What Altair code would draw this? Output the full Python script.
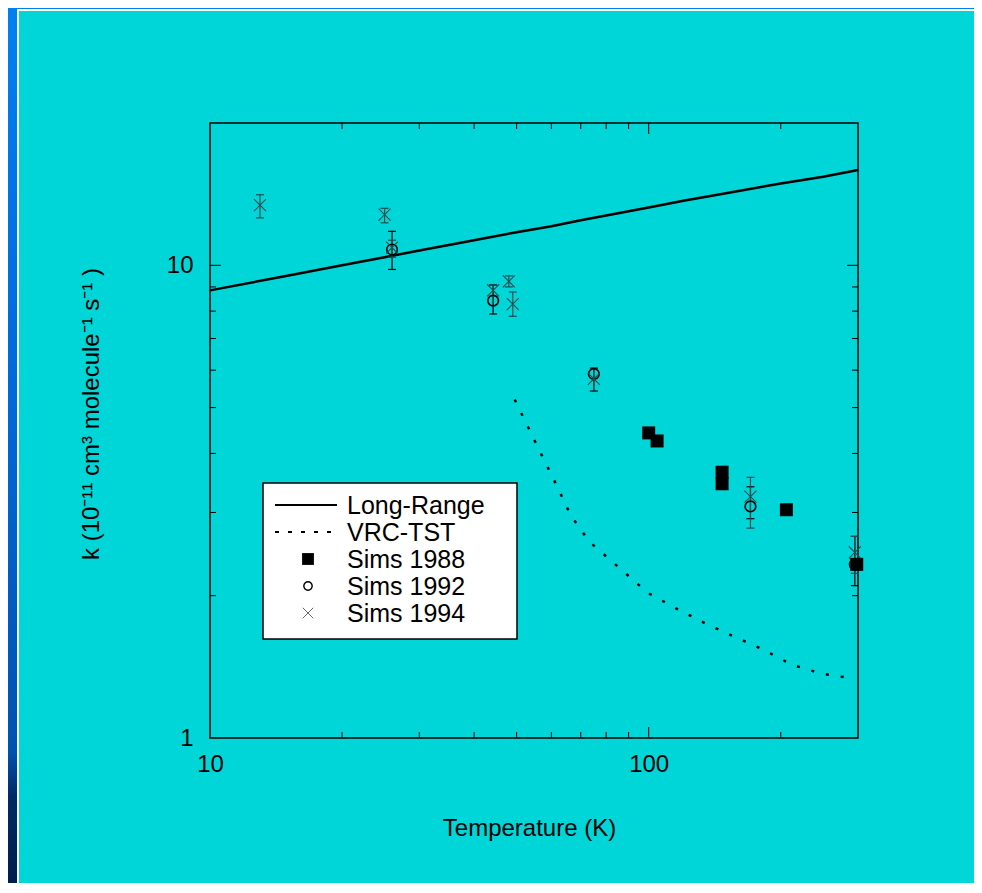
import altair as alt
import pandas as pd

# ---------------- data ----------------
lr_T = [10, 15, 20, 25, 30, 40, 50, 60, 70, 80, 100, 120, 150, 200, 250, 300]
lr_k = [8.85, 9.5, 10.0, 10.4, 10.75, 11.3, 11.75, 12.1, 12.45, 12.75, 13.25, 13.7, 14.2, 14.9, 15.4, 15.9]

vrc_T = [49.5, 53.3, 57.4, 61.8, 66.4, 73.3, 85.3, 99.4, 115.5, 134.2, 156.3, 182.0, 211.5, 246.3, 285.7]
vrc_k = [5.20, 4.51, 3.92, 3.41, 2.96, 2.60, 2.30, 2.03, 1.88, 1.75, 1.64, 1.54, 1.43, 1.37, 1.34]

s88_T = [100, 104.5, 147, 147, 206, 298]
s88_k = [4.42, 4.25, 3.65, 3.45, 3.04, 2.33]

s92_T = [26, 44.2, 75, 170.6, 295]
s92_k = [10.8, 8.42, 5.89, 3.09, 2.33]
s92_lo = [9.8, 7.89, 5.42, 2.91, 2.10]
s92_hi = [11.8, 9.09, 6.06, 3.40, 2.67]

s94_T = [13, 25, 26, 44.2, 48, 49, 75, 170.6, 295]
s94_k = [13.4, 12.8, 10.9, 8.85, 9.25, 8.28, 5.75, 3.24, 2.47]
s94_lo = [12.6, 12.3, 10.4, 8.6, 9.0, 7.8, 5.42, 2.78, 2.23]
s94_hi = [14.1, 13.2, 11.3, 9.09, 9.5, 8.78, 6.06, 3.56, 2.67]

x_major = [100]
x_minor = [20, 30, 40, 50, 60, 70, 80, 90, 200]
y_major = [10]
y_minor = [2, 3, 4, 5, 6, 7, 8, 9]
x_labels = [10, 100]
y_labels = [1, 10]

legend_labels = ["Long-Range", "VRC-TST", "Sims 1988", "Sims 1992", "Sims 1994"]

# ---------------- layout ----------------
W, H = 648, 615
PL, PT, PR, PB = 202, 115, 116, 145
FONT = "Liberation Sans"
CYAN = "#00D5D8"

xs = alt.Scale(type="log", domain=[10, 300], nice=False, zero=False)
ys = alt.Scale(type="log", domain=[1, 20], nice=False, zero=False)

x_axis = alt.Axis(values=x_labels, format="d", labelFont=FONT, labelFontSize=24,
                  labelColor="black", ticks=False, domain=False, grid=False,
                  labelPadding=14, labelFlush=False, title="Temperature (K)",
                  titleFont=FONT, titleFontSize=24, titleFontWeight="normal",
                  titleColor="black", titlePadding=40, titleX=319)
y_axis = alt.Axis(values=y_labels, format="d", labelFont=FONT, labelFontSize=24,
                  labelColor="black", ticks=False, domain=False, grid=False,
                  labelPadding=17, labelFlush=False, title="")

lr = pd.DataFrame({"T": lr_T, "k": lr_k})
vrc = pd.DataFrame({"T": vrc_T, "k": vrc_k})
s88 = pd.DataFrame({"T": s88_T, "k": s88_k})
s92 = pd.DataFrame({"T": s92_T, "k": s92_k, "lo": s92_lo, "hi": s92_hi})
s94 = pd.DataFrame({"T": s94_T, "k": s94_k, "lo": s94_lo, "hi": s94_hi})


def X(f="T"):
    return alt.X(f + ":Q", scale=xs, axis=x_axis)


def Y(f="k"):
    return alt.Y(f + ":Q", scale=ys, axis=y_axis)


long_range = alt.Chart(lr).mark_line(color="black", strokeWidth=2.5).encode(x=X(), y=Y())

vrc_line = alt.Chart(vrc).mark_line(color="black", strokeWidth=2.5, strokeDash=[3, 12]).encode(
    x=X(), y=Y())


def errbars(df, color, width):
    rule = alt.Chart(df).mark_rule(color=color, strokeWidth=width).encode(
        x=X(), y=Y("lo"), y2="hi:Q")
    caps_lo = alt.Chart(df).mark_point(shape="M-1,0L1,0", size=64, filled=False, color=color,
                                       strokeWidth=width, opacity=1).encode(x=X(), y=Y("lo"))
    caps_hi = alt.Chart(df).mark_point(shape="M-1,0L1,0", size=64, filled=False, color=color,
                                       strokeWidth=width, opacity=1).encode(x=X(), y=Y("hi"))
    return [rule, caps_lo, caps_hi]


err92 = errbars(s92, "black", 1.2)
err94 = errbars(s94, "#1f4f50", 1.2)

squares = alt.Chart(s88).mark_square(size=169, color="black", opacity=1).encode(x=X(), y=Y())
circles = alt.Chart(s92).mark_point(shape="circle", size=113, filled=False, color="black",
                                    strokeWidth=1.6, opacity=1).encode(x=X(), y=Y())
crosses = alt.Chart(s94).mark_point(shape="M-1,-1L1,1M-1,1L1,-1", size=144, filled=False,
                                    color="#2b4b4c", strokeWidth=1.1, opacity=1).encode(x=X(), y=Y())


# inward ticks on all four sides
def xticks(vals, length):
    base = alt.Chart(pd.DataFrame({"T": vals}))
    return [
        base.mark_rule(color="black", strokeWidth=1).encode(
            x=X(), y=alt.value(H), y2=alt.value(H - length)),
        base.mark_rule(color="black", strokeWidth=1).encode(
            x=X(), y=alt.value(0), y2=alt.value(length)),
    ]


def yticks(vals, length):
    base = alt.Chart(pd.DataFrame({"k": vals}))
    return [
        base.mark_rule(color="black", strokeWidth=1).encode(
            y=Y(), x=alt.value(0), x2=alt.value(length)),
        base.mark_rule(color="black", strokeWidth=1).encode(
            y=Y(), x=alt.value(W), x2=alt.value(W - length)),
    ]


ticks = xticks(x_major, 11) + xticks(x_minor, 6) + yticks(y_major, 11) + yticks(y_minor, 6)

one = pd.DataFrame({"a": [0]})

# y-axis title
ytitle = alt.Chart(one).mark_text(text="k (10⁻¹¹ cm³ molecule⁻¹ s⁻¹ )", font=FONT, fontSize=24,
                                  angle=270, align="center", baseline="middle",
                                  color="black").encode(x=alt.value(-118), y=alt.value(291))

# legend
LX0, LX1, LY0, LY1 = 53, 307, 360, 516
row0, step = 382, 27
leg_df = pd.DataFrame({"label": legend_labels,
                       "py": [row0 + step * i for i in range(len(legend_labels))]})
leg_box = alt.Chart(one).mark_rect(fill="white", stroke="black", strokeWidth=1.5).encode(
    x=alt.value(LX0), x2=alt.value(LX1), y=alt.value(LY0), y2=alt.value(LY1))
leg_text = alt.Chart(leg_df).mark_text(font=FONT, fontSize=25, align="left", baseline="middle",
                                      color="black", dy=1).encode(
    x=alt.value(137), y=alt.Y("py:Q", scale=None), text="label:N")
leg_solid = alt.Chart(one).mark_rule(color="black", strokeWidth=2).encode(
    x=alt.value(65), x2=alt.value(127), y=alt.value(row0))
leg_dot = alt.Chart(one).mark_rule(color="black", strokeWidth=2, strokeDash=[4, 9]).encode(
    x=alt.value(65), x2=alt.value(127), y=alt.value(row0 + step))
leg_sq = alt.Chart(one).mark_square(size=140, color="black", opacity=1).encode(
    x=alt.value(98), y=alt.value(row0 + 2 * step))
leg_ci = alt.Chart(one).mark_point(shape="circle", size=70, filled=False, color="black",
                                   strokeWidth=1.4, opacity=1).encode(
    x=alt.value(98), y=alt.value(row0 + 3 * step))
leg_x = alt.Chart(one).mark_point(shape="M-1,-1L1,1M-1,1L1,-1", size=110, filled=False,
                                  color="#666666", strokeWidth=1, opacity=1).encode(
    x=alt.value(98), y=alt.value(row0 + 4 * step))

# slide decoration (left blue strip and white rules)
strip = alt.Chart(one).mark_rect(fill={"gradient": "linear", "x1": 0, "y1": 0, "x2": 0, "y2": 1,
                                       "stops": [{"offset": 0, "color": "#0080F0"},
                                                 {"offset": 0.45, "color": "#0068D8"},
                                                 {"offset": 0.85, "color": "#0052B0"},
                                                 {"offset": 0.9, "color": "#002A66"},
                                                 {"offset": 1, "color": "#001E4A"}]}).encode(
    x=alt.value(-PL), x2=alt.value(-PL + 9), y=alt.value(-PT), y2=alt.value(H + PB))
topstrip = alt.Chart(one).mark_rect(color="#0080F0").encode(
    x=alt.value(-PL), x2=alt.value(W + PR), y=alt.value(-PT), y2=alt.value(-PT + 1))
wline_v = alt.Chart(one).mark_rect(color="white").encode(
    x=alt.value(-PL + 9), x2=alt.value(-PL + 11), y=alt.value(-PT + 1), y2=alt.value(H + PB))
wline_h = alt.Chart(one).mark_rect(color="white").encode(
    x=alt.value(-PL + 9), x2=alt.value(W + PR), y=alt.value(-PT + 1), y2=alt.value(-PT + 3))

layers = [strip, topstrip, wline_v, wline_h, long_range, vrc_line] + ticks + err92 + err94 + \
         [squares, circles, crosses, ytitle, leg_box, leg_text, leg_solid, leg_dot, leg_sq, leg_ci, leg_x]

chart = alt.layer(*layers).properties(
    width=W, height=H,
    autosize=alt.AutoSizeParams(type="none"),
    padding={"left": PL, "top": PT, "right": PR, "bottom": PB},
    background=CYAN,
).configure_view(stroke="black", strokeWidth=1.5)

chart.save("out.html", embed_options={"renderer": "svg", "actions": False})
